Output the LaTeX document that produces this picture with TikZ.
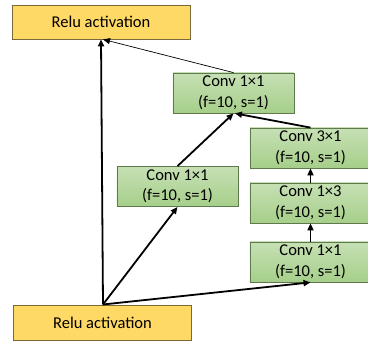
\documentclass[tikz,border=0pt]{standalone}
\usepackage{fontspec}
\setmainfont{Carlito}
\usetikzlibrary{arrows.meta}
\definecolor{reluFill}{HTML}{FFD966}
\definecolor{reluLine}{HTML}{7A6A3A}
\definecolor{convTop}{HTML}{C6E0B4}
\definecolor{convBot}{HTML}{A6CF8A}
\definecolor{convLine}{HTML}{5E7A4C}
\tikzset{
  relu/.style={draw=reluLine, fill=reluFill, line width=0.8pt,
    minimum width=178pt, minimum height=34pt, font=\fontsize{16.5}{18}\selectfont, inner sep=0pt},
  conv/.style={draw=convLine, top color=convTop, bottom color=convBot, line width=0.8pt,
    minimum width=121pt, minimum height=40pt, align=center,
    font=\fontsize{16.5}{20.5}\selectfont, inner sep=0pt},
  flow/.style={line width=1.8pt, -{Triangle[length=7pt,width=6pt]}},
  thinflow/.style={line width=0.7pt, -{Triangle[length=7pt,width=6pt]}}
}
\begin{document}
\begin{tikzpicture}[x=1pt, y=-1pt]
  \useasboundingbox (0,0) rectangle (368,344);
  \begin{scope}
    \clip (0,0) rectangle (368,344);
    % output and input activations
    \node[relu] (top) at (101,22) {Relu activation};
    \node[relu, minimum height=35pt] (bottom) at (102.5,322.5) {Relu activation};
    % convolution blocks
    \node[conv] (merge) at (233.5,93) {Conv 1×1\\(f=10, s=1)};
    \node[conv] (left) at (177.5,186.5) {Conv 1×1\\(f=10, s=1)};
    \node[conv] (c31) at (310.5,148) {Conv 3×1\\(f=10, s=1)};
    \node[conv] (c13) at (310.5,203) {Conv 1×3\\(f=10, s=1)};
    \node[conv] (c11) at (310.5,262) {Conv 1×1\\(f=10, s=1)};
    % connections
    \coordinate (src) at (103,304.5);
    \draw[flow] (src) -- (top.south);
    \draw[flow] (src) -- (left.south);
    \draw[flow] (src) -- (c11.south);
    \draw[flow] (left.north) -- (merge.south);
    \draw[flow] (c31.north) -- ([xshift=1.5pt]merge.south);
    \draw[flow] (c11.north) -- (c13.south);
    \draw[flow] (c13.north) -- (c31.south);
    \draw[thinflow] (merge.north) -- ([xshift=2pt]top.south);
  \end{scope}
\end{tikzpicture}
\end{document}
